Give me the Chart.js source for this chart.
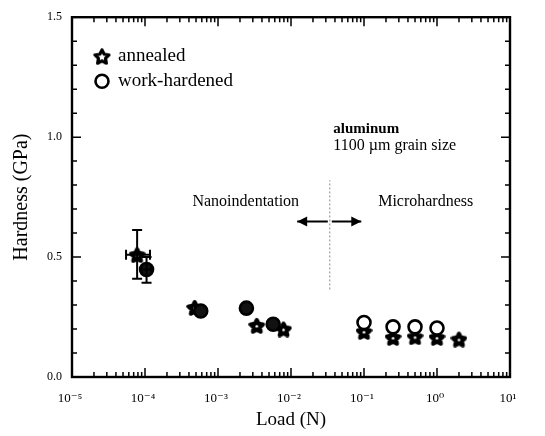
<!DOCTYPE html>
<html>
<head>
<meta charset="utf-8">
<script src="https://cdn.jsdelivr.net/npm/chart.js@4.4.0/dist/chart.umd.min.js"></script>
<style>
  html, body { margin: 0; padding: 0; background: #fff; }
</style>
</head>
<body>
<canvas id="hardnessChart" width="545" height="436"></canvas>
<script>
// values
const annealedLoad = [7.8e-5, 4.8e-4, 3.4e-3, 7.9e-3, 0.1, 0.25, 0.5, 1.0, 2.0];
const annealedHardness = [0.51, 0.29, 0.215, 0.20, 0.19, 0.165, 0.168, 0.165, 0.158];
const hardenedLoad = [1.05e-4, 5.8e-4, 2.45e-3, 5.7e-3, 0.1, 0.25, 0.5, 1.0];
const hardenedHardness = [0.448, 0.275, 0.287, 0.22, 0.227, 0.209, 0.209, 0.204];

// error bars (first nanoindentation point of each series)
const annealedErrLoad = [5.5e-5, 1.17e-4];
const annealedErrHardness = [0.41, 0.613];
const hardenedErrLoad = [9.0e-5, 1.22e-4];
const hardenedErrHardness = [0.393, 0.50];

const decadeTicks = [1e-5, 1e-4, 1e-3, 1e-2, 1e-1, 1, 10];
const decadeLabels = ['10\u207B\u2075', '10\u207B\u2074', '10\u207B\u00B3', '10\u207B\u00B2', '10\u207B\u00B9', '10\u2070', '10\u00B9'];
const hardnessTicks = [0.0, 0.5, 1.0, 1.5];

const boundaryLoad = 0.034;
const boundaryHardness = [0.365, 0.82];

const serif = '"Liberation Serif", "DejaVu Serif", serif';

function makeStar(size, lw) {
    const c = document.createElement('canvas');
    c.width = size;
    c.height = size;
    const g = c.getContext('2d');
    const r = size / 2 - lw / 2, ri = r * 0.5, cx = size / 2, cy = size / 2 + 1;
    g.beginPath();
    for (let i = 0; i < 10; i++) {
        const rad = i % 2 ? ri : r;
        const a = -Math.PI / 2 + i * Math.PI / 5;
        g.lineTo(cx + rad * Math.cos(a), cy + rad * Math.sin(a));
    }
    g.closePath();
    g.fillStyle = '#fff';
    g.fill();
    g.lineJoin = 'round';
    g.lineWidth = lw;
    g.strokeStyle = '#000';
    g.stroke();
    return c;
}
const starImg = makeStar(17, 4.2);
const legendStar = makeStar(18, 3.2);

function pts(xs, ys) {
    return xs.map((x, i) => ({ x: x, y: ys[i] }));
}

const errorBars = {
    id: 'errorBars',
    afterDatasetsDraw(chart) {
        const { ctx, scales: { x, y } } = chart;
        const sets = [
            [annealedLoad[0], annealedHardness[0], annealedErrLoad, annealedErrHardness],
            [hardenedLoad[0], hardenedHardness[0], hardenedErrLoad, hardenedErrHardness]
        ];
        ctx.save();
        ctx.strokeStyle = '#000';
        ctx.lineWidth = 2;
        sets.forEach(([lx, hy, ex, ey]) => {
            const px = x.getPixelForValue(lx), py = y.getPixelForValue(hy);
            const x0 = x.getPixelForValue(ex[0]), x1 = x.getPixelForValue(ex[1]);
            const y0 = y.getPixelForValue(ey[0]), y1 = y.getPixelForValue(ey[1]);
            ctx.beginPath();
            ctx.moveTo(px, y0); ctx.lineTo(px, y1);
            ctx.moveTo(px - 5, y0); ctx.lineTo(px + 5, y0);
            ctx.moveTo(px - 5, y1); ctx.lineTo(px + 5, y1);
            ctx.moveTo(x0, py); ctx.lineTo(x1, py);
            ctx.moveTo(x0, py - 5); ctx.lineTo(x0, py + 5);
            ctx.moveTo(x1, py - 5); ctx.lineTo(x1, py + 5);
            ctx.stroke();
        });
        ctx.restore();
    }
};

const frameAndTicks = {
    id: 'frameAndTicks',
    afterDraw(chart) {
        const { ctx, chartArea: a, scales: { x, y } } = chart;
        ctx.save();
        ctx.strokeStyle = '#000';
        ctx.lineWidth = 1.5;
        ctx.beginPath();
        for (let e = -5; e < 1; e++) {
            for (let m = 1; m < 10; m++) {
                const px = x.getPixelForValue(m * Math.pow(10, e));
                const len = m === 1 ? 9 : 5;
                ctx.moveTo(px, a.bottom); ctx.lineTo(px, a.bottom - len);
                ctx.moveTo(px, a.top); ctx.lineTo(px, a.top + len);
            }
        }
        for (let v = 0; v <= 15; v++) {
            const py = y.getPixelForValue(v / 10);
            const len = v % 5 === 0 ? 9 : 5;
            ctx.moveTo(a.left, py); ctx.lineTo(a.left + len, py);
            ctx.moveTo(a.right, py); ctx.lineTo(a.right - len, py);
        }
        ctx.stroke();
        ctx.lineWidth = 2.4;
        ctx.strokeRect(a.left, a.top, a.right - a.left, a.bottom - a.top);
        ctx.restore();
    }
};

const annotations = {
    id: 'annotations',
    afterDatasetsDraw(chart) {
        const { ctx, chartArea: a, scales: { x, y } } = chart;
        ctx.save();
        ctx.fillStyle = '#000';
        ctx.textBaseline = 'middle';

        // legend
        ctx.drawImage(legendStar, a.left + 21, a.top + 30);
        ctx.beginPath();
        ctx.arc(a.left + 30, a.top + 64, 6.5, 0, Math.PI * 2);
        ctx.lineWidth = 2.6;
        ctx.strokeStyle = '#000';
        ctx.stroke();
        ctx.font = '19px ' + serif;
        ctx.textAlign = 'left';
        ctx.fillText('annealed', a.left + 46, a.top + 39);
        ctx.fillText('work-hardened', a.left + 46, a.top + 64);

        // sample label
        ctx.font = 'bold 15px ' + serif;
        ctx.fillText('aluminum', x.getPixelForValue(0.038), y.getPixelForValue(1.035));
        ctx.font = '16px ' + serif;
        ctx.fillText('1100 \u00B5m grain size', x.getPixelForValue(0.038), y.getPixelForValue(0.965));

        // regime labels
        ctx.font = '16px ' + serif;
        ctx.textAlign = 'center';
        ctx.fillText('Nanoindentation', x.getPixelForValue(2.4e-3), y.getPixelForValue(0.73));
        ctx.fillText('Microhardness', x.getPixelForValue(0.7), y.getPixelForValue(0.73));

        // arrows
        const ay = y.getPixelForValue(0.648);
        const bx = x.getPixelForValue(boundaryLoad);
        const lx = x.getPixelForValue(boundaryLoad / 2.8);
        const rx = x.getPixelForValue(boundaryLoad * 2.7);
        ctx.lineWidth = 2;
        ctx.beginPath();
        ctx.moveTo(lx, ay); ctx.lineTo(bx - 2, ay);
        ctx.moveTo(bx + 2, ay); ctx.lineTo(rx, ay);
        ctx.stroke();
        ctx.beginPath();
        ctx.moveTo(lx, ay); ctx.lineTo(lx + 10, ay - 5); ctx.lineTo(lx + 10, ay + 5); ctx.closePath();
        ctx.moveTo(rx, ay); ctx.lineTo(rx - 10, ay - 5); ctx.lineTo(rx - 10, ay + 5); ctx.closePath();
        ctx.fill();
        ctx.restore();
    }
};

const ctx = document.getElementById('hardnessChart').getContext('2d');

new Chart(ctx, {
    type: 'scatter',
    data: {
        datasets: [{
            label: 'boundary',
            type: 'line',
            data: pts([boundaryLoad, boundaryLoad], boundaryHardness),
            borderColor: '#888',
            borderWidth: 1,
            borderDash: [2, 2],
            pointRadius: 0,
            fill: false
        }, {
            label: 'work-hardened',
            data: pts(hardenedLoad, hardenedHardness),
            pointStyle: 'circle',
            pointRadius: 6.5,
            borderWidth: 2.6,
            borderColor: '#000',
            backgroundColor: (c) => (c.raw && c.raw.x < boundaryLoad ? '#111' : '#fff')
        }, {
            label: 'annealed',
            data: pts(annealedLoad, annealedHardness),
            pointStyle: starImg
        }]
    },
    options: {
        responsive: false,
        animation: false,
        layout: { padding: { top: 12, right: 35, left: 0, bottom: 0 } },
        plugins: {
            legend: { display: false },
            tooltip: { enabled: false }
        },
        scales: {
            x: {
                type: 'logarithmic',
                min: 1e-5,
                max: 10,
                afterBuildTicks: (scale) => { scale.ticks = decadeTicks.map(v => ({ value: v })); },
                afterFit: (scale) => { scale.height = 59; },
                grid: { display: false, drawTicks: false },
                border: { display: false },
                ticks: {
                    padding: 14,
                    labelOffset: -2,
                    color: '#000',
                    font: { family: serif, size: 13 },
                    maxRotation: 0,
                    autoSkip: false,
                    callback: (v) => decadeLabels[decadeTicks.indexOf(v)] || ''
                },
                title: {
                    display: true,
                    text: 'Load (N)',
                    color: '#000',
                    font: { family: serif, size: 19 },
                    padding: { top: 0, bottom: 5 }
                }
            },
            y: {
                min: 0,
                max: 1.5,
                afterBuildTicks: (scale) => { scale.ticks = hardnessTicks.map(v => ({ value: v })); },
                afterFit: (scale) => { scale.width = 72; },
                grid: { display: false, drawTicks: false },
                border: { display: false },
                ticks: {
                    padding: 10,
                    color: '#000',
                    font: { family: serif, size: 12 },
                    callback: (v) => v.toFixed(1)
                },
                title: {
                    display: true,
                    text: 'Hardness (GPa)',
                    color: '#000',
                    font: { family: serif, size: 20 },
                    padding: { top: 10, bottom: 0 }
                }
            }
        }
    },
    plugins: [errorBars, annotations, frameAndTicks]
});
</script>
</body>
</html>
